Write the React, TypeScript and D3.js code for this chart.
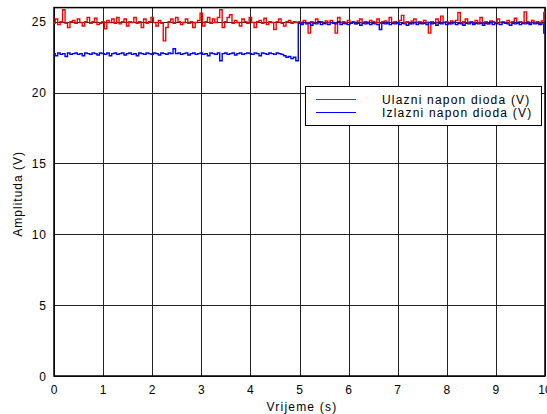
import React, { useRef, useEffect } from 'react';
import * as d3 from 'd3';

// sampled every 0.05 s, from 0 to 10 s
const SAMPLE_STEP = 0.05;

const ulazniNapon: number[] = [
    24.9, 25.2, 24.8, 25.0, 25.85, 24.9, 24.6, 25.0, 25.1, 24.9,
    25.2, 24.95, 24.7, 25.0, 25.3, 24.9, 25.0, 25.25, 24.8, 24.9,
    25.0, 24.5, 25.1, 24.95, 25.2, 24.9, 25.3, 24.85, 25.0, 25.2,
    24.7, 25.0, 24.95, 25.3, 24.9, 25.0, 24.6, 25.2, 24.9, 25.0,
    25.3, 24.95, 24.7, 25.1, 24.9, 23.65, 24.6, 25.0, 25.2, 24.9,
    25.3, 25.0, 24.8, 24.95, 25.2, 24.9, 25.0, 24.6, 24.95, 25.1,
    25.6, 24.7, 25.0, 25.3, 24.9, 25.2, 24.95, 25.3, 25.85, 24.6,
    25.0, 25.3, 25.5, 24.9, 25.1, 24.95, 24.7, 25.2, 25.0, 24.9,
    25.3, 24.95, 24.6, 25.0, 25.1, 24.9, 25.25, 24.8, 25.0, 24.95,
    24.45, 25.0, 25.2, 24.9, 24.7, 25.0, 25.1, 24.9, 25.0, 24.95,
    25.0, 24.9, 25.1, 24.95, 24.2, 25.0, 24.9, 25.2, 24.95, 25.0,
    24.9, 25.05, 24.95, 25.1, 24.9, 24.2, 25.3, 24.95, 25.0, 24.9,
    25.1, 24.95, 25.0, 24.85, 25.05, 25.2, 24.95, 25.0, 24.9, 25.1,
    25.0, 24.95, 25.2, 24.9, 25.0, 25.05, 24.9, 25.3, 24.95, 25.0,
    24.9, 25.1, 25.45, 24.95, 25.0, 24.85, 25.05, 25.2, 24.95, 25.0,
    24.9, 25.1, 24.95, 24.2, 25.0, 24.9, 25.2, 25.0, 25.4, 24.95,
    25.0, 24.85, 25.05, 24.95, 25.1, 25.65, 24.9, 25.0, 25.2, 24.95,
    25.0, 24.9, 25.1, 24.95, 25.3, 24.9, 25.0, 24.85, 25.05, 25.0,
    24.9, 25.2, 24.95, 25.0, 24.9, 25.1, 24.95, 25.0, 25.25, 24.9,
    25.0, 24.95, 25.7, 25.0, 24.9, 25.1, 24.95, 25.0, 24.9, 25.05,
    25.65,
];

const izlazniNapon: number[] = [
    22.75, 22.6, 22.8, 22.7, 22.75, 22.55, 22.8, 22.7, 22.75, 22.8,
    22.7, 22.75, 22.6, 22.8, 22.75, 22.7, 22.8, 22.75, 22.65, 22.8,
    22.75, 22.7, 22.8, 22.6, 22.75, 22.8, 22.7, 22.75, 22.8, 22.65,
    22.75, 22.8, 22.7, 22.75, 22.6, 22.8, 22.75, 22.7, 22.8, 22.75,
    22.7, 22.8, 22.75, 22.65, 22.8, 22.75, 22.7, 22.8, 22.75, 23.1,
    22.75, 22.8, 22.7, 22.75, 22.8, 22.65, 22.75, 22.8, 22.7, 22.75,
    22.8, 22.7, 22.75, 22.6, 22.8, 22.75, 22.7, 22.8, 22.25, 22.75,
    22.8, 22.7, 22.75, 22.8, 22.65, 22.75, 22.8, 22.7, 22.75, 22.8,
    22.75, 22.7, 22.8, 22.75, 22.6, 22.8, 22.75, 22.7, 22.8, 22.75,
    22.7, 22.8, 22.75, 22.7, 22.6, 22.5, 22.55, 22.4, 22.5, 22.25,
    24.9, 24.8, 24.95, 24.85, 24.9, 24.75, 24.9, 24.85, 25.0, 24.8,
    24.9, 24.85, 24.8, 24.95, 24.9, 24.85, 25.0, 24.8, 24.9, 24.85,
    24.8, 24.9, 24.95, 24.85, 24.9, 24.75, 24.9, 24.85, 24.95, 24.8,
    24.9, 24.85, 24.8, 24.45, 24.9, 24.85, 24.95, 24.8, 24.9, 24.85,
    24.95, 24.8, 24.9, 24.85, 24.75, 24.9, 24.85, 24.95, 24.8, 24.9,
    24.85, 24.9, 24.8, 24.95, 24.85, 24.9, 24.75, 24.9, 24.85, 24.95,
    24.8, 24.9, 24.85, 24.95, 24.8, 24.9, 24.85, 24.75, 24.9, 24.85,
    24.95, 24.8, 24.9, 24.85, 24.9, 24.75, 24.9, 24.85, 24.95, 24.8,
    24.9, 24.85, 24.8, 24.95, 24.9, 24.85, 24.75, 24.9, 24.85, 24.95,
    24.8, 24.9, 24.85, 24.9, 24.8, 24.95, 24.85, 24.9, 24.8, 24.85,
    24.2,
];

const xTicks = [0, 1, 2, 3, 4, 5, 6, 7, 8, 9, 10];
const yTicks = [0, 5, 10, 15, 20, 25];

const seriesNames = ['Ulazni napon dioda (V)', 'Izlazni napon dioda (V)'];
const seriesColors = ['#ff0000', '#0000ff'];

const FONT = '"Liberation Sans", Arial, Helvetica, sans-serif';

const App: React.FC = () => {
    const svgRef = useRef<SVGSVGElement | null>(null);

    useEffect(() => {
        if (!svgRef.current) return;
        const width = 547;
        const height = 414;

        const svg = d3.select(svgRef.current);
        svg.selectAll('*').remove();

        const x = d3.scaleLinear().domain([0, 10]).range([54, 545]);
        const y = d3.scaleLinear().domain([0, 26]).range([376, 7.6]);

        svg.append('rect').attr('width', width).attr('height', height).attr('fill', '#fff');

        // --- GRID ---
        const grid = svg.append('g').attr('stroke', '#222').attr('stroke-width', 1);
        grid.selectAll('line.vx')
            .data(xTicks)
            .join('line')
            .attr('x1', d => Math.round(x(d)) + 0.5)
            .attr('x2', d => Math.round(x(d)) + 0.5)
            .attr('y1', y(26))
            .attr('y2', y(0));
        grid.selectAll('line.hy')
            .data(yTicks)
            .join('line')
            .attr('x1', x(0))
            .attr('x2', x(10))
            .attr('y1', d => Math.round(y(d)) + 0.5)
            .attr('y2', d => Math.round(y(d)) + 0.5);

        // --- FRAME ---
        svg.append('rect')
            .attr('x', x(0))
            .attr('y', y(26))
            .attr('width', x(10) - x(0))
            .attr('height', y(0) - y(26))
            .attr('fill', 'none')
            .attr('stroke', '#000')
            .attr('stroke-width', 1.5);

        // --- SERIES ---
        const line = d3.line<number>()
            .x((_, i) => x(i * SAMPLE_STEP))
            .y(d => y(d))
            .curve(d3.curveStep);

        [ulazniNapon, izlazniNapon].forEach((vals, k) => {
            svg.append('path')
                .datum(vals)
                .attr('fill', 'none')
                .attr('stroke', seriesColors[k])
                .attr('stroke-width', 1.4)
                .attr('d', line);
        });

        // --- TICK LABELS ---
        svg.append('g').selectAll('text')
            .data(xTicks)
            .join('text')
            .attr('x', d => x(d))
            .attr('y', 394)
            .attr('text-anchor', 'middle')
            .attr('font-family', FONT)
            .attr('font-size', 12)
            .attr('fill', '#000')
            .text(d => String(d));

        svg.append('g').selectAll('text')
            .data(yTicks)
            .join('text')
            .attr('x', 47)
            .attr('y', d => y(d) + 4.5)
            .attr('text-anchor', 'end')
            .attr('font-family', FONT)
            .attr('font-size', 12)
            .attr('letter-spacing', 1)
            .attr('fill', '#000')
            .text(d => String(d));

        // --- AXIS TITLES ---
        svg.append('text')
            .attr('x', 302)
            .attr('y', 411)
            .attr('text-anchor', 'middle')
            .attr('font-family', FONT)
            .attr('font-size', 12)
            .attr('letter-spacing', 1.2)
            .text('Vrijeme (s)');

        svg.append('text')
            .attr('transform', `translate(22, ${(y(0) + y(26)) / 2 + 2}) rotate(-90)`)
            .attr('text-anchor', 'middle')
            .attr('font-family', FONT)
            .attr('font-size', 12)
            .attr('letter-spacing', 1)
            .text('Amplituda (V)');

        // --- LEGEND ---
        const legend = svg.append('g');
        legend.append('rect')
            .attr('x', 305.5)
            .attr('y', 86.5)
            .attr('width', 236)
            .attr('height', 39)
            .attr('fill', '#fff')
            .attr('stroke', '#000')
            .attr('stroke-width', 1);
        seriesNames.forEach((name, k) => {
            const ly = 99.5 + k * 13;
            legend.append('line')
                .attr('x1', 316)
                .attr('x2', 356)
                .attr('y1', ly)
                .attr('y2', ly)
                .attr('stroke', seriesColors[k])
                .attr('stroke-width', 1);
            legend.append('text')
                .attr('x', 382)
                .attr('y', ly + 4.5)
                .attr('font-family', FONT)
                .attr('font-size', 12)
                .attr('letter-spacing', 1.2)
                .text(name);
        });
    }, []);

    return (
        <div style={{ position: 'absolute', left: 0, top: 0 }}>
            <svg ref={svgRef} width={547} height={414} style={{ display: 'block' }}></svg>
        </div>
    );
};

export default App;
